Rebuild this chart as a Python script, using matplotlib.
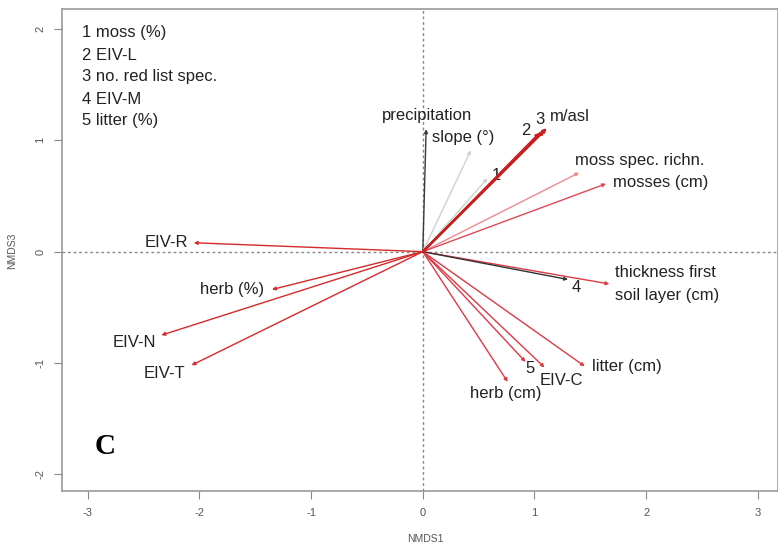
import matplotlib
matplotlib.use("Agg")
from matplotlib import pyplot as plt

# vector end points (NMDS1, NMDS3)
names = ["precipitation", "slope (°)", "1", "2", "3", "m/asl",
         "moss spec. richn.", "mosses (cm)", "thickness first\nsoil layer (cm)",
         "4", "litter (cm)", "EIV-C", "5", "herb (cm)",
         "EIV-R", "herb (%)", "EIV-N", "EIV-T"]
nmds1 = [0.03, 0.43, 0.58, 1.05, 1.09, 1.11,
         1.40, 1.64, 1.67,
         1.30, 1.45, 1.09, 0.92, 0.76,
         -2.05, -1.35, -2.34, -2.07]
nmds3 = [1.10, 0.91, 0.66, 1.07, 1.09, 1.11,
         0.71, 0.61, -0.29,
         -0.25, -1.03, -1.04, -0.99, -1.17,
         0.08, -0.34, -0.75, -1.02]

legend_lines = ["1 moss (%)", "2 EIV-L", "3 no. red list spec.", "4 EIV-M", "5 litter (%)"]

x_ticks = [-3, -2, -1, 0, 1, 2, 3]
y_ticks = [-2, -1, 0, 1, 2]

# colour, line width, label offset (px), ha
styles = {
  "precipitation": ("#3a3a3a", 1.0, (1, 14), "center"),
  "slope (°)": ("#d0d0d0", 1.0, (-39, 13), "left"),
  "1": ("#c8d8c8", 1.0, (9, 3), "center"),
  "2": ("#c82020", 1.6, (-14, 2), "center"),
  "3": ("#c82020", 1.6, (-5, 11), "center"),
  "m/asl": ("#c82020", 1.6, (3, 12), "left"),
  "moss spec. richn.": ("#ee8a8a", 1.0, (-4, 12), "left"),
  "mosses (cm)": ("#dc4a55", 1.0, (7, 1), "left"),
  "thickness first\nsoil layer (cm)": ("#dc3a45", 1.0, (6, 0), "left"),
  "4": ("#333333", 1.0, (8, -8), "center"),
  "litter (cm)": ("#dc3a45", 1.0, (7, 0), "left"),
  "EIV-C": ("#dc3a45", 1.0, (17, -13), "center"),
  "5": ("#dc3a45", 1.0, (4, -7), "center"),
  "herb (cm)": ("#dc3a45", 1.0, (-2, -12), "center"),
  "EIV-R": ("#d42a2a", 1.0, (-6, 0), "right"),
  "herb (%)": ("#d42a2a", 1.0, (-8, 0), "right"),
  "EIV-N": ("#d42a2a", 1.0, (-27, -7), "center"),
  "EIV-T": ("#d42a2a", 1.0, (-27, -8), "center"),
}

plt.rcParams["font.family"] = ["Liberation Sans", "DejaVu Sans"]

fig = plt.figure(figsize=(7.78, 5.45), dpi=100)
ax = fig.add_axes([62/778, 54/545, 716/778, 482/545])
ax.set_xlim(-3.23, 3.18)
ax.set_ylim(-2.15, 2.18)

ax.axhline(0, color="#888888", linestyle=(0, (2, 2)), linewidth=1.0, zorder=1)
ax.axvline(0, color="#888888", linestyle=(0, (2, 2)), linewidth=1.0, zorder=1)

for name, x, y in zip(names, nmds1, nmds3):
  color, lw, offset, ha = styles[name]
  ax.annotate("", xy=(x, y), xytext=(0, 0),
              arrowprops=dict(arrowstyle="-|>", color=color, lw=lw,
                              mutation_scale=5, shrinkA=0, shrinkB=0),
              zorder=3 if lw > 1 else 2)
  ax.annotate(name, xy=(x, y), xytext=offset, textcoords="offset pixels",
              ha=ha, va="center", fontsize=12, color="#222222",
              linespacing=1.6)

for i, line in enumerate(legend_lines):
  ax.text(82/778, 1 - (33 + 22*i)/545, line, transform=fig.transFigure,
          ha="left", va="center", fontsize=12, color="#222222")

ax.text(105/778, 1 - 447/545, "C", transform=fig.transFigure, ha="center",
        va="center", fontsize=21, fontweight="bold", family="Liberation Serif")

ax.set_xticks(x_ticks)
ax.set_yticks(y_ticks)
ax.set_xticklabels([str(t) for t in x_ticks])
ax.set_yticklabels([str(t) for t in y_ticks], rotation=90, va="center")
ax.tick_params(length=6, width=0.8, color="#888888", labelcolor="#555555",
               labelsize=8, pad=6)
for spine in ax.spines.values():
  spine.set_color("#999999")
  spine.set_linewidth(1.2)

fig.text(425/778, 1 - 539/545, "NMDS1", ha="center", va="center",
         fontsize=7.5, color="#555555")
fig.text(12/778, 1 - 251/545, "NMDS3", ha="center", va="center",
         fontsize=7.5, color="#555555", rotation=90)

fig.savefig("out.png", dpi=100)
